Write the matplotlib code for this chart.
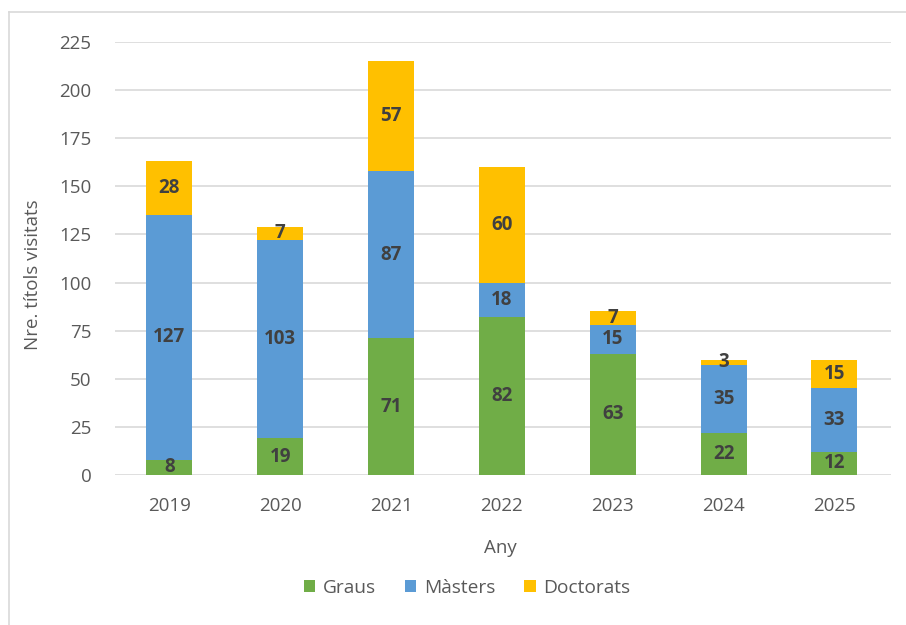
import matplotlib
matplotlib.use('Agg')
import matplotlib.pyplot as plt
from matplotlib.lines import Line2D
import numpy as np

years = ['2019', '2020', '2021', '2022', '2023', '2024', '2025']
graus = [8, 19, 71, 82, 63, 22, 12]
masters = [127, 103, 87, 18, 15, 35, 33]
doctorats = [28, 7, 57, 60, 7, 3, 15]

series = [('Graus', graus, '#70AD47'),
          ('Màsters', masters, '#5B9BD5'),
          ('Doctorats', doctorats, '#FFC000')]

plt.rcParams['font.family'] = ['Open Sans', 'DejaVu Sans']

W, H = 906., 625.
fig = plt.figure(figsize=(W / 100, H / 100), dpi=100)
ax = fig.add_axes([115 / W, 1 - 475 / H, 776 / W, 433 / H])

x = np.arange(len(years))
bottom = np.zeros(len(years))
for name, vals, col in series:
  vals = np.array(vals, dtype=float)
  ax.bar(x, vals, bottom=bottom, width=0.415, color=col, label=name, zorder=3)
  for xi, b, v in zip(x, bottom, vals):
    ax.text(xi, b + v / 2., str(int(v)), ha='center', va='center',
            fontsize=13.5, fontweight='bold', color='#404040', zorder=4)
  bottom += vals

ax.set_xlim(-0.49, 6.51)
ax.set_ylim(0, 225)
ax.set_yticks(np.arange(0, 226, 25))
ax.set_xticks(x)
ax.set_xticklabels(years)
ax.grid(axis='y', color='#D9D9D9', linewidth=1.2, zorder=0)
for s in ax.spines.values():
  s.set_visible(False)
ax.tick_params(length=0, labelsize=13.5, colors='#595959')
ax.tick_params(axis='y', pad=17)
ax.tick_params(axis='x', pad=16)

ax.set_xlabel('Any', fontsize=13.5, color='#595959', va='center')
ax.xaxis.set_label_coords(0.497, (475 - 548) / 433.)
ax.set_ylabel('Nre. títols visitats', fontsize=13.5, color='#595959', va='center')
ax.yaxis.set_label_coords((33 - 115) / 776., (475 - 275) / 433.)

leg = fig.legend(loc='center', bbox_to_anchor=(467 / W, 1 - 588 / H), ncol=3, frameon=False,
                 fontsize=13.8, handlelength=0.6, handleheight=0.6, handletextpad=0.4,
                 columnspacing=1.5)
for t in leg.get_texts():
  t.set_color('#595959')

# outer frame (only left and top visible in the crop)
fig.add_artist(Line2D([9 / W, 9 / W], [0, 1 - 12 / H], color='#D9D9D9', lw=1.2))
fig.add_artist(Line2D([9 / W, 1], [1 - 12 / H, 1 - 12 / H], color='#D9D9D9', lw=1.2))

plt.savefig('out.png', dpi=100)
